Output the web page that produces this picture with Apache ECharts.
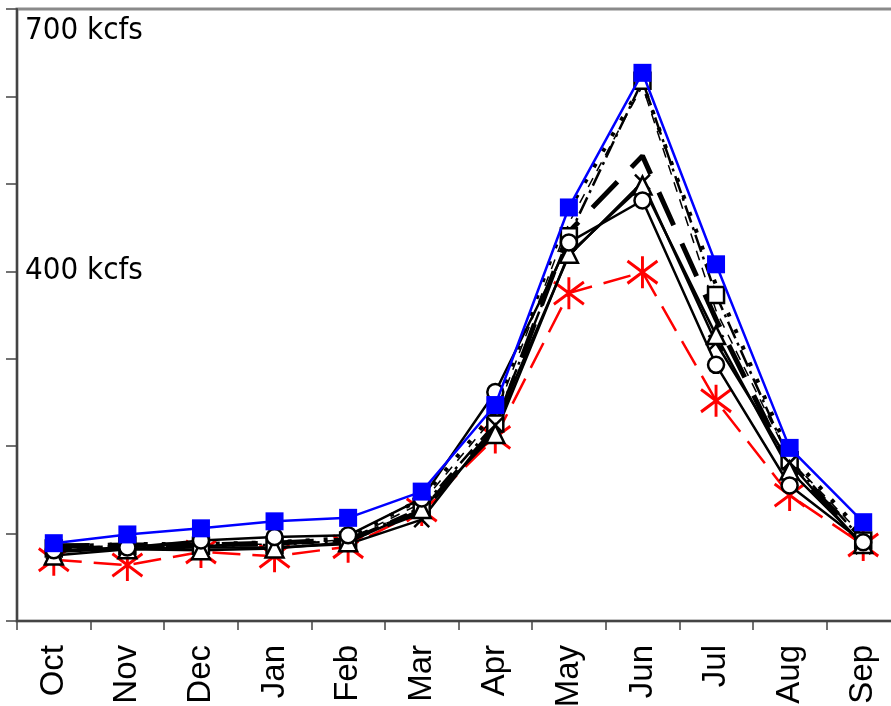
<!DOCTYPE html>
<html lang="en">
<head>
    <meta charset="UTF-8">
    <title>Monthly flow</title>
    <script src="https://cdn.jsdelivr.net/npm/echarts@6/dist/echarts.min.js"></script>
    <style>
        html, body { margin: 0; padding: 0; background: #fff; overflow: hidden; }
        #chart { width: 891px; height: 706px; }
    </style>
</head>
<body>
    <div id="chart"></div>
    <script>
        // months of the water year
        const months = ['Oct', 'Nov', 'Dec', 'Jan', 'Feb', 'Mar', 'Apr', 'May', 'Jun', 'Jul', 'Aug', 'Sep'];
        // only these ticks carry a label
        const labeledTicks = [400, 700];
        const unit = 'kcfs';

        // flows in kcfs
        const blueSquare = [89, 99, 106, 114, 118, 148, 247, 473, 627, 408, 198, 113];
        const redStar = [70, 64, 79, 74, 85, 127, 210, 375, 399, 252, 144, 87];
        const blackCircle = [81, 84, 92, 96, 98, 140, 262, 433, 481, 293, 155, 90];
        const blackTriangle = [75, 82, 81, 83, 90, 128, 214, 420, 498, 327, 172, 88];
        const blackCross = [79, 83, 84, 84, 88, 116, 224, 418, 502, 318, 181, 85];
        const blackSquare = [83, 86, 86, 87, 92, 130, 226, 440, 618, 373, 184, 92];
        const thickDash = [86, 87, 87, 89, 93, 125, 220, 445, 532, 345, 175, 95];
        const dotted = [85, 88, 88, 90, 95, 140, 240, 470, 615, 384, 190, 100];
        const thinDash = [84, 86, 87, 88, 93, 135, 235, 455, 612, 355, 185, 97];

        const starPath = 'path://M0,-10 L0,10 M-9,-7 L9,7 M-9,7 L9,-7';
        const crossPath = 'path://M0,0 L10,10 M0,10 L10,0';

        function openMarker(symbol, size, data, dash) {
            return {
                type: 'line',
                data: data,
                symbol: symbol,
                symbolSize: size,
                showAllSymbol: true,
                lineStyle: { color: '#000', width: 2.5, type: dash || 'solid' },
                itemStyle: { color: '#fff', borderColor: '#000', borderWidth: 2.5 },
                z: 3
            };
        }

        let chart = echarts.init(document.querySelector('#chart'));
        let option = {
            animation: false,
            grid: {
                left: 17,
                top: 9,
                width: 883,
                height: 612,
                containLabel: false,
                outerBoundsMode: 'none',
                show: true,
                borderColor: '#8a8a8a',
                borderWidth: 3
            },
            xAxis: {
                type: 'category',
                data: months,
                boundaryGap: true,
                axisLine: { lineStyle: { color: '#444', width: 2 } },
                axisTick: { show: true, length: 9, lineStyle: { color: '#444', width: 1.5 } },
                axisLabel: {
                    rotate: 90,
                    margin: 24,
                    fontSize: 33,
                    color: '#000',
                    fontFamily: 'Liberation Sans, Arial, sans-serif',
                    interval: 0
                },
                splitLine: { show: false }
            },
            yAxis: {
                type: 'value',
                min: 0,
                max: 700,
                interval: 100,
                axisLine: { show: true, lineStyle: { color: '#444', width: 2 } },
                axisTick: { show: true, inside: false, length: 11, lineStyle: { color: '#444', width: 1.5 } },
                splitLine: { show: false },
                axisLabel: {
                    inside: true,
                    margin: 8,
                    showMaxLabel: true,
                    color: '#000',
                    fontSize: 31,
                    fontFamily: 'DejaVu Sans Condensed, DejaVu Sans, sans-serif',
                    formatter: function (v) {
                        if (labeledTicks.indexOf(v) < 0) return '';
                        if (v === 700) return '{top|' + v + ' ' + unit + '}';
                        return v + ' ' + unit;
                    },
                    rich: {
                        top: {
                            fontSize: 31,
                            color: '#000',
                            fontFamily: 'DejaVu Sans Condensed, DejaVu Sans, sans-serif',
                            padding: [44, 0, 0, 0]
                        }
                    }
                }
            },
            series: [
                {
                    type: 'line',
                    data: redStar,
                    symbol: starPath,
                    symbolSize: [30, 32],
                    showAllSymbol: true,
                    lineStyle: { color: '#ff0000', width: 2.5, type: [28, 12] },
                    itemStyle: { color: 'transparent', borderColor: '#ff0000', borderWidth: 3 },
                    z: 2
                },
                {
                    type: 'line',
                    data: thinDash,
                    symbol: 'none',
                    lineStyle: { color: '#000', width: 1.5, type: [10, 8] },
                    z: 3
                },
                {
                    type: 'line',
                    data: dotted,
                    symbol: 'none',
                    lineStyle: { color: '#000', width: 4, type: [4, 14] },
                    z: 3
                },
                {
                    type: 'line',
                    data: thickDash,
                    symbol: 'none',
                    lineStyle: { color: '#000', width: 5, type: [36, 20] },
                    z: 3
                },
                openMarker('rect', 16, blackSquare, [18, 5, 3, 5]),
                openMarker(crossPath, 15, blackCross),
                openMarker('triangle', 18, blackTriangle),
                openMarker('circle', 16, blackCircle),
                {
                    type: 'line',
                    data: blueSquare,
                    symbol: 'rect',
                    symbolSize: 18,
                    showAllSymbol: true,
                    lineStyle: { color: '#0000ff', width: 2.5 },
                    itemStyle: { color: '#0000ff' },
                    z: 5
                }
            ]
        };
        chart.setOption(option);
    </script>
</body>
</html>
